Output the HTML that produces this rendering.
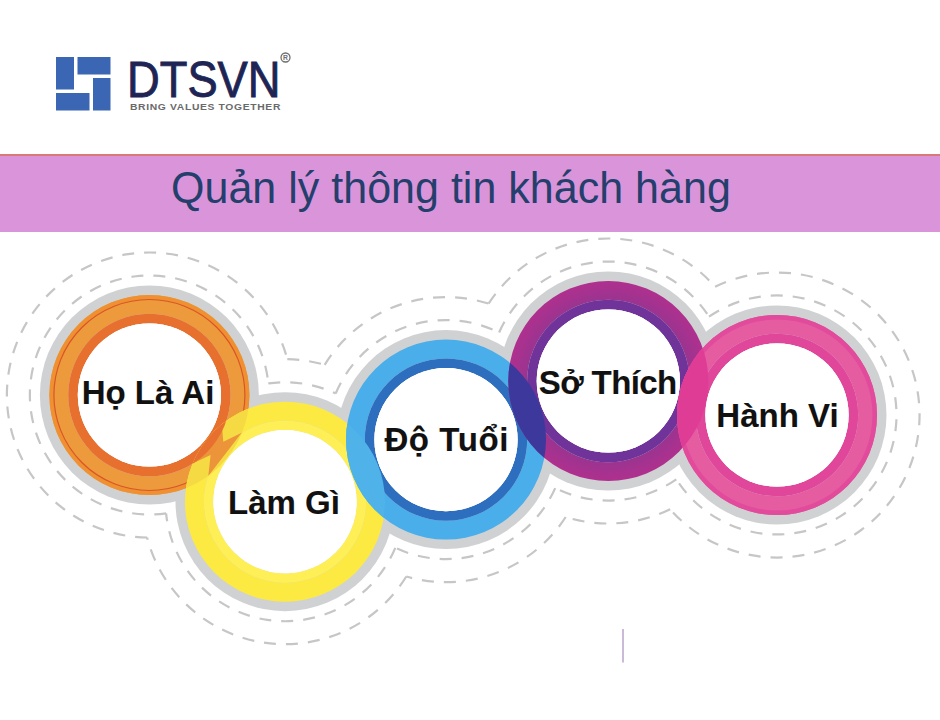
<!DOCTYPE html><html><head><meta charset="utf-8"><style>
html,body{margin:0;padding:0;background:#fff;}
body{width:940px;height:720px;position:relative;overflow:hidden;font-family:"Liberation Sans",sans-serif;}
.t{position:absolute;white-space:nowrap;line-height:1;}
.lab{font-weight:bold;color:#111;font-size:33px;-webkit-text-stroke:0.1px #111;}
</style></head><body>
<div style="position:absolute;left:0;top:154px;width:940px;height:1.5px;background:#d87a78"></div>
<div style="position:absolute;left:0;top:155.5px;width:940px;height:76px;background:#da95da"></div>
<svg width="940" height="720" viewBox="0 0 940 720" style="position:absolute;left:0;top:0">
<defs>
<clipPath id="c_orange"><path clip-rule="evenodd" d="M249.4,395.0A100,100 0 1 0 49.4,395.0A100,100 0 1 0 249.4,395.0ZM221.0,395.0A71.6,71.6 0 1 0 77.8,395.0A71.6,71.6 0 1 0 221.0,395.0Z"/></clipPath>
<clipPath id="c_yellow"><path clip-rule="evenodd" d="M385.0,501.7A100,100 0 1 0 185.0,501.7A100,100 0 1 0 385.0,501.7ZM356.6,501.7A71.6,71.6 0 1 0 213.4,501.7A71.6,71.6 0 1 0 356.6,501.7Z"/></clipPath>
<clipPath id="c_blue"><path clip-rule="evenodd" d="M546.0,439.6A100,100 0 1 0 346.0,439.6A100,100 0 1 0 546.0,439.6ZM517.6,439.6A71.6,71.6 0 1 0 374.4,439.6A71.6,71.6 0 1 0 517.6,439.6Z"/></clipPath>
<clipPath id="c_purple"><path clip-rule="evenodd" d="M708.3,381.0A100,100 0 1 0 508.3,381.0A100,100 0 1 0 708.3,381.0ZM679.9,381.0A71.6,71.6 0 1 0 536.7,381.0A71.6,71.6 0 1 0 679.9,381.0Z"/></clipPath>
<clipPath id="c_pink"><path clip-rule="evenodd" d="M877.0,415.0A100,100 0 1 0 677.0,415.0A100,100 0 1 0 877.0,415.0ZM848.6,415.0A71.6,71.6 0 1 0 705.4,415.0A71.6,71.6 0 1 0 848.6,415.0Z"/></clipPath>
<radialGradient id="g_purple" gradientUnits="userSpaceOnUse" cx="608.3" cy="381.0" r="100"><stop offset="0.81" stop-color="#9a3490"/><stop offset="1" stop-color="#b0308e"/></radialGradient>
</defs>
<path d="M166.1,513.3A119.5,119.5 0 1 1 268.3,383.4" fill="none" stroke="#c6c6c6" stroke-width="2.2" stroke-dasharray="12 10"/>
<path d="M395.3,547.8A119.5,119.5 0 0 1 166.1,513.3" fill="none" stroke="#c6c6c6" stroke-width="2.2" stroke-dasharray="12 10"/>
<path d="M268.3,383.4A119.5,119.5 0 0 1 335.7,393.5" fill="none" stroke="#c6c6c6" stroke-width="2.2" stroke-dasharray="12 10"/>
<path d="M555.2,488.1A119.5,119.5 0 0 1 395.3,547.8" fill="none" stroke="#c6c6c6" stroke-width="2.2" stroke-dasharray="12 10"/>
<path d="M335.7,393.5A119.5,119.5 0 0 1 499.1,332.5" fill="none" stroke="#c6c6c6" stroke-width="2.2" stroke-dasharray="12 10"/>
<path d="M676.3,479.3A119.5,119.5 0 0 1 555.2,488.1" fill="none" stroke="#c6c6c6" stroke-width="2.2" stroke-dasharray="12 10"/>
<path d="M499.1,332.5A119.5,119.5 0 0 1 709.0,316.7" fill="none" stroke="#c6c6c6" stroke-width="2.2" stroke-dasharray="12 10"/>
<path d="M709.0,316.7A119.5,119.5 0 1 1 676.3,479.3" fill="none" stroke="#c6c6c6" stroke-width="2.2" stroke-dasharray="12 10"/>
<path d="M147.1,537.5A142.5,142.5 0 1 1 287.3,359.2" fill="none" stroke="#c6c6c6" stroke-width="2.2" stroke-dasharray="12 10"/>
<path d="M406.3,576.5A142.5,142.5 0 0 1 147.1,537.5" fill="none" stroke="#c6c6c6" stroke-width="2.2" stroke-dasharray="12 10"/>
<path d="M287.3,359.2A142.5,142.5 0 0 1 324.7,364.8" fill="none" stroke="#c6c6c6" stroke-width="2.2" stroke-dasharray="12 10"/>
<path d="M565.7,517.0A142.5,142.5 0 0 1 406.3,576.5" fill="none" stroke="#c6c6c6" stroke-width="2.2" stroke-dasharray="12 10"/>
<path d="M324.7,364.8A142.5,142.5 0 0 1 488.6,303.6" fill="none" stroke="#c6c6c6" stroke-width="2.2" stroke-dasharray="12 10"/>
<path d="M670.2,509.3A142.5,142.5 0 0 1 565.7,517.0" fill="none" stroke="#c6c6c6" stroke-width="2.2" stroke-dasharray="12 10"/>
<path d="M488.6,303.6A142.5,142.5 0 0 1 715.1,286.7" fill="none" stroke="#c6c6c6" stroke-width="2.2" stroke-dasharray="12 10"/>
<path d="M715.1,286.7A142.5,142.5 0 1 1 670.2,509.3" fill="none" stroke="#c6c6c6" stroke-width="2.2" stroke-dasharray="12 10"/>
<circle cx="149.4" cy="395.0" r="109.5" fill="#d0d1d3"/>
<circle cx="285.0" cy="501.7" r="109.5" fill="#d0d1d3"/>
<circle cx="446.0" cy="439.6" r="109.5" fill="#d0d1d3"/>
<circle cx="608.3" cy="381.0" r="109.5" fill="#d0d1d3"/>
<circle cx="777.0" cy="415.0" r="109.5" fill="#d0d1d3"/>
<path fill-rule="evenodd" fill="#ec9a3b" d="M249.4,395.0A100,100 0 1 0 49.4,395.0A100,100 0 1 0 249.4,395.0ZM230.6,395.0A81.2,81.2 0 1 0 68.2,395.0A81.2,81.2 0 1 0 230.6,395.0Z"/>
<path fill-rule="evenodd" fill="#e8702f" d="M230.6,395.0A81.2,81.2 0 1 0 68.2,395.0A81.2,81.2 0 1 0 230.6,395.0ZM221.0,395.0A71.6,71.6 0 1 0 77.8,395.0A71.6,71.6 0 1 0 221.0,395.0Z"/>
<circle cx="149.4" cy="395.0" r="71.6" fill="#fff"/>
<path fill-rule="evenodd" fill="#ef9130" d="M249.4,395.0A100,100 0 1 0 49.4,395.0A100,100 0 1 0 249.4,395.0ZM244.9,395.0A95.5,95.5 0 1 0 53.9,395.0A95.5,95.5 0 1 0 244.9,395.0Z"/>
<circle cx="149.4" cy="395.0" r="95.5" fill="none" stroke="#d9552a" stroke-width="1.2"/>
<path fill-rule="evenodd" fill="#fcea42" d="M385.0,501.7A100,100 0 1 0 185.0,501.7A100,100 0 1 0 385.0,501.7ZM366.2,501.7A81.2,81.2 0 1 0 203.8,501.7A81.2,81.2 0 1 0 366.2,501.7Z"/>
<path fill-rule="evenodd" fill="#fdef55" d="M366.2,501.7A81.2,81.2 0 1 0 203.8,501.7A81.2,81.2 0 1 0 366.2,501.7ZM356.6,501.7A71.6,71.6 0 1 0 213.4,501.7A71.6,71.6 0 1 0 356.6,501.7Z"/>
<circle cx="285.0" cy="501.7" r="71.6" fill="#fff"/>
<path fill-rule="evenodd" fill="#49aee9" d="M546.0,439.6A100,100 0 1 0 346.0,439.6A100,100 0 1 0 546.0,439.6ZM527.2,439.6A81.2,81.2 0 1 0 364.8,439.6A81.2,81.2 0 1 0 527.2,439.6Z"/>
<path fill-rule="evenodd" fill="#2e6ebf" d="M527.2,439.6A81.2,81.2 0 1 0 364.8,439.6A81.2,81.2 0 1 0 527.2,439.6ZM517.6,439.6A71.6,71.6 0 1 0 374.4,439.6A71.6,71.6 0 1 0 517.6,439.6Z"/>
<circle cx="446.0" cy="439.6" r="71.6" fill="#fff"/>
<path fill-rule="evenodd" fill="url(#g_purple)" d="M708.3,381.0A100,100 0 1 0 508.3,381.0A100,100 0 1 0 708.3,381.0ZM689.5,381.0A81.2,81.2 0 1 0 527.1,381.0A81.2,81.2 0 1 0 689.5,381.0Z"/>
<path fill-rule="evenodd" fill="#6f3399" d="M689.5,381.0A81.2,81.2 0 1 0 527.1,381.0A81.2,81.2 0 1 0 689.5,381.0ZM679.9,381.0A71.6,71.6 0 1 0 536.7,381.0A71.6,71.6 0 1 0 679.9,381.0Z"/>
<circle cx="608.3" cy="381.0" r="71.6" fill="#fff"/>
<path fill-rule="evenodd" fill="#e55ca1" d="M877.0,415.0A100,100 0 1 0 677.0,415.0A100,100 0 1 0 877.0,415.0ZM858.2,415.0A81.2,81.2 0 1 0 695.8,415.0A81.2,81.2 0 1 0 858.2,415.0Z"/>
<path fill-rule="evenodd" fill="#e0469a" d="M858.2,415.0A81.2,81.2 0 1 0 695.8,415.0A81.2,81.2 0 1 0 858.2,415.0ZM848.6,415.0A71.6,71.6 0 1 0 705.4,415.0A71.6,71.6 0 1 0 848.6,415.0Z"/>
<circle cx="777.0" cy="415.0" r="71.6" fill="#fff"/>
<path fill-rule="evenodd" fill="#e24a9b" d="M877.0,415.0A100,100 0 1 0 677.0,415.0A100,100 0 1 0 877.0,415.0ZM872.5,415.0A95.5,95.5 0 1 0 681.5,415.0A95.5,95.5 0 1 0 872.5,415.0Z"/>
<g clip-path="url(#c_orange)"><path fill-rule="evenodd" fill="#f6da44" fill-opacity="1" d="M385.0,501.7A100,100 0 1 0 185.0,501.7A100,100 0 1 0 385.0,501.7ZM356.6,501.7A71.6,71.6 0 1 0 213.4,501.7A71.6,71.6 0 1 0 356.6,501.7Z"/></g>
<g clip-path="url(#c_orange)"><g clip-path="url(#c_yellow)" fill="#ec9439"><polygon points="221.7,422.8 223.3,441.7 241.7,432.8 208.3,476.1 210.6,455 189.4,465 186,450 205,425 218,405"/></g></g>
<g clip-path="url(#c_yellow)"><path fill-rule="evenodd" fill="#e8702f" d="M230.6,395.0A81.2,81.2 0 1 0 68.2,395.0A81.2,81.2 0 1 0 230.6,395.0ZM221.0,395.0A71.6,71.6 0 1 0 77.8,395.0A71.6,71.6 0 1 0 221.0,395.0Z"/></g>
<g clip-path="url(#c_yellow)"><path fill-rule="evenodd" fill="#4fb3e9" fill-opacity="1" d="M546.0,439.6A100,100 0 1 0 346.0,439.6A100,100 0 1 0 546.0,439.6ZM517.6,439.6A71.6,71.6 0 1 0 374.4,439.6A71.6,71.6 0 1 0 517.6,439.6Z"/></g>
<g clip-path="url(#c_purple)"><path fill-rule="evenodd" fill="#3d389b" fill-opacity="1" d="M546.0,439.6A100,100 0 1 0 346.0,439.6A100,100 0 1 0 546.0,439.6ZM517.6,439.6A71.6,71.6 0 1 0 374.4,439.6A71.6,71.6 0 1 0 517.6,439.6Z"/></g>
<g clip-path="url(#c_purple)"><path fill-rule="evenodd" fill="#df3c96" fill-opacity="1" d="M877.0,415.0A100,100 0 1 0 677.0,415.0A100,100 0 1 0 877.0,415.0ZM848.6,415.0A71.6,71.6 0 1 0 705.4,415.0A71.6,71.6 0 1 0 848.6,415.0Z"/></g>
<circle cx="149.4" cy="395.0" r="71.6" fill="#fff"/>
<circle cx="285.0" cy="501.7" r="71.6" fill="#fff"/>
<circle cx="446.0" cy="439.6" r="71.6" fill="#fff"/>
<circle cx="608.3" cy="381.0" r="71.6" fill="#fff"/>
<circle cx="777.0" cy="415.0" r="71.6" fill="#fff"/>
<g fill="#3a66b3"><rect x="56" y="57" width="18" height="32.5"/><rect x="77.5" y="57" width="33" height="17.5"/><rect x="93" y="78" width="17.5" height="32.5"/><rect x="56" y="93" width="33.5" height="17.5"/></g>
<line x1="623" y1="629" x2="623" y2="662.5" stroke="#b9a3cb" stroke-width="1.5"/>
</svg>
<div class="t" id="title" style="left:170.5px;top:166px;font-size:44px;color:#243f6c;transform-origin:0 0;transform:scaleX(0.978);">Quản lý thông tin khách hàng</div>
<div class="t" id="dtsvn" style="left:127px;top:55px;font-size:49.5px;color:#1e2555;transform-origin:0 0;transform:scaleX(0.915);-webkit-text-stroke:0.9px #1e2555;">DTSVN</div>
<div class="t" id="tag" style="left:130px;top:103px;font-size:8.6px;font-weight:bold;color:#6a6a6a;letter-spacing:0.55px;transform-origin:0 0;transform:scaleX(1.2);">BRING VALUES TOGETHER</div>
<svg style="position:absolute;left:279px;top:51px" width="13" height="13"><circle cx="6.5" cy="6.5" r="4.5" fill="none" stroke="#6e6e6e" stroke-width="1.3"/><text x="6.5" y="9.1" font-family="Liberation Sans" font-weight="bold" font-size="6.8" text-anchor="middle" fill="#6e6e6e">R</text></svg>
<div class="t lab" id="lab0" style="left:-2.0px;width:300px;text-align:center;top:376.4px;letter-spacing:0px;">Họ Là Ai</div>
<div class="t lab" id="lab1" style="left:134.0px;width:300px;text-align:center;top:485.5px;letter-spacing:0px;">Làm Gì</div>
<div class="t lab" id="lab2" style="left:296.7px;width:300px;text-align:center;top:422.7px;letter-spacing:0.6px;">Độ Tuổi</div>
<div class="t lab" id="lab3" style="left:457.7px;width:300px;text-align:center;top:366.4px;letter-spacing:-0.6px;">Sở Thích</div>
<div class="t lab" id="lab4" style="left:627.5px;width:300px;text-align:center;top:398.8px;letter-spacing:0px;">Hành Vi</div>
</body></html>
